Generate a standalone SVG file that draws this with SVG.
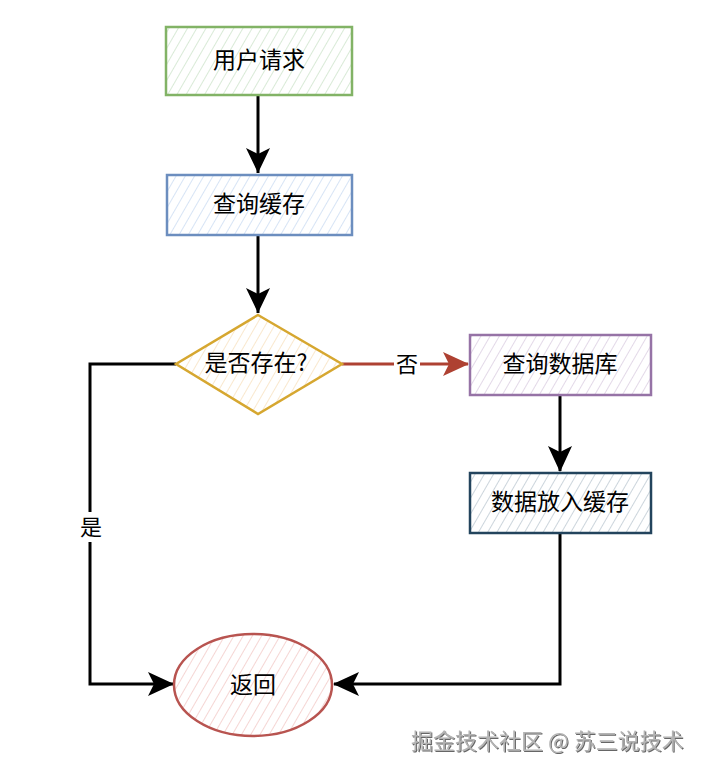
<svg xmlns="http://www.w3.org/2000/svg" width="704" height="774" viewBox="0 0 704 774">
<style>
.lbl{font-family:"Noto Sans CJK SC","Liberation Sans",sans-serif;font-size:23px;fill:#000;text-anchor:middle;dominant-baseline:central}
.sm{font-size:22px}
.edge{fill:none;stroke:#000;stroke-width:3}
.red{stroke:#ae4132}
.node{stroke-width:2.5}
.wm{font-family:"Noto Sans CJK SC","Liberation Sans",sans-serif;font-size:22px;fill:#b4b4b4;filter:url(#sh)}
</style>
<defs>
<pattern id="hg" width="8" height="8" patternUnits="userSpaceOnUse" patternTransform="rotate(30)"><line x1="0" y1="0" x2="0" y2="8" stroke="#bfdcbb" stroke-width="1.2"/></pattern>
<pattern id="hb" width="8" height="8" patternUnits="userSpaceOnUse" patternTransform="rotate(30)"><line x1="0" y1="0" x2="0" y2="8" stroke="#bcd2ee" stroke-width="1.2"/></pattern>
<pattern id="hy" width="8" height="8" patternUnits="userSpaceOnUse" patternTransform="rotate(30)"><line x1="0" y1="0" x2="0" y2="8" stroke="#f5d9ad" stroke-width="1.2"/></pattern>
<pattern id="hp" width="8" height="8" patternUnits="userSpaceOnUse" patternTransform="rotate(30)"><line x1="0" y1="0" x2="0" y2="8" stroke="#d0bfd8" stroke-width="1.2"/></pattern>
<pattern id="hs" width="8" height="8" patternUnits="userSpaceOnUse" patternTransform="rotate(30)"><line x1="0" y1="0" x2="0" y2="8" stroke="#a9b8c4" stroke-width="1.2"/></pattern>
<pattern id="hr" width="8" height="8" patternUnits="userSpaceOnUse" patternTransform="rotate(30)"><line x1="0" y1="0" x2="0" y2="8" stroke="#efbab7" stroke-width="1.2"/></pattern>
<filter id="sh" x="-5%" y="-20%" width="110%" height="150%"><feDropShadow dx="1" dy="1" stdDeviation="0.6" flood-color="#555" flood-opacity="0.9"/></filter>
</defs>
<g id="connectors">
<path class="edge" d="M258,95 L258,173"/>
<path d="M246,148 L258,173 L270,148 L258,154 Z" fill="#000"/>
<path class="edge" d="M258,235 L258,313"/>
<path d="M246,288 L258,313 L270,288 L258,294 Z" fill="#000"/>
<path class="edge red" d="M342,364 L468,364"/>
<path d="M443,352 L469,364 L443,376 L449,364 Z" fill="#ae4132"/>
<rect x="394" y="350" width="26" height="28" fill="#fff"/>
<text class="lbl sm" x="407" y="362">否</text>
<path class="edge" d="M560,396 L560,471"/>
<path d="M548,446 L560,472 L572,446 L560,452 Z" fill="#000"/>
<path class="edge" d="M176,364 L90,364 L90,684 L173,684"/>
<path d="M148,672 L174,684 L148,696 L154,684 Z" fill="#000"/>
<rect x="78" y="512" width="26" height="30" fill="#fff"/>
<text class="lbl sm" x="91" y="525">是</text>
<path class="edge" d="M560,533 L560,684 L334,684"/>
<path d="M359,672 L333,684 L359,696 L353,684 Z" fill="#000"/>
</g>
<g id="n1">
<rect x="166" y="27" width="186" height="68" fill="url(#hg)" stroke="#82b366" class="node"/>
<text class="lbl" x="259" y="58">用户请求</text>
</g>
<g id="n2">
<rect x="167" y="175" width="185" height="60" fill="url(#hb)" stroke="#6c8ebf" class="node"/>
<text class="lbl" x="259" y="202">查询缓存</text>
</g>
<g id="n3">
<path d="M258,315 L342,364 L258,414 L176,364 Z" fill="url(#hy)" stroke="#d6a730" class="node"/>
<text class="lbl" x="256" y="361">是否存在?</text>
</g>
<g id="n4">
<rect x="470" y="335" width="181" height="60" fill="url(#hp)" stroke="#9673a6" class="node"/>
<text class="lbl" x="560" y="362">查询数据库</text>
</g>
<g id="n5">
<rect x="470" y="473" width="181" height="60" fill="url(#hs)" stroke="#23445d" class="node"/>
<text class="lbl" x="560" y="500">数据放入缓存</text>
</g>
<g id="n6">
<ellipse cx="253" cy="685" rx="79" ry="51" fill="url(#hr)" stroke="#b85450" stroke-width="2.5"/>
<text class="lbl" x="253" y="683">返回</text>
</g>
<text class="wm" x="411" y="749">掘金技术社区 @ 苏三说技术</text>
</svg>
